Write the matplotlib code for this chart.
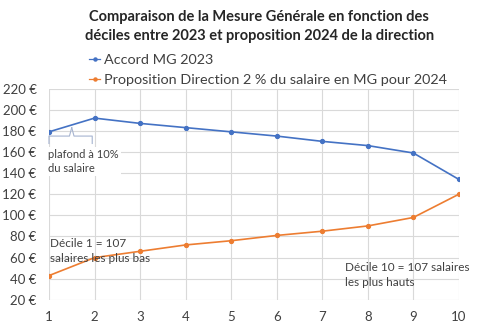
import matplotlib
matplotlib.use("Agg")
import matplotlib.pyplot as plt
from matplotlib.ticker import FuncFormatter

# données
deciles = [1, 2, 3, 4, 5, 6, 7, 8, 9, 10]
accord_2023 = [179, 192, 187, 183, 179, 175, 170, 166, 159, 134]
proposition_2024 = [43, 60, 66, 72, 76, 81, 85, 90, 98, 120]
y_ticks = [20, 40, 60, 80, 100, 120, 140, 160, 180, 200, 220]

plt.rcParams['font.family'] = ['Lato', 'DejaVu Sans']

bleu = '#4472C4'
orange = '#ED7D31'

fig = plt.figure(figsize=(4.8, 3.26), dpi=100)
ax = fig.add_axes([0.102, 0.080, 0.854, 0.6485])

ax.plot(deciles, accord_2023, color=bleu, lw=1.2, marker='o', ms=2.8,
        label='Accord MG 2023')
ax.plot(deciles, proposition_2024, color=orange, lw=1.2, marker='o', ms=2.8,
        label='Proposition Direction 2 % du salaire en MG pour 2024')

ax.set_xlim(1, 10)
ax.set_ylim(20, 220)
ax.set_xticks(deciles)
ax.set_yticks(y_ticks)
ax.yaxis.set_major_formatter(FuncFormatter(lambda v, p: f"{int(v)} €"))
ax.tick_params(length=0, labelsize=9.5, colors='#404040')
ax.tick_params(axis='y', pad=9)
ax.tick_params(axis='x', pad=8)
ax.grid(True, color='#d9d9d9', lw=0.8)
ax.set_axisbelow(True)
for s in ax.spines.values():
    s.set_visible(False)

fig.text(0.54, 0.968, "Comparaison de la Mesure Générale en fonction des\n"
         "déciles entre 2023 et proposition 2024 de la direction",
         ha='center', va='top', fontsize=10.5, fontweight='bold',
         color='#262626', linespacing=1.45)

leg = fig.legend(loc='upper left', bbox_to_anchor=(0.185, 0.835), frameon=False,
                 fontsize=10.4, handlelength=0.8, handletextpad=0.25,
                 labelspacing=0.55, borderaxespad=0, borderpad=0,
                 labelcolor='#404040')
for h in leg.legend_handles:
    h.set_linewidth(0.9)
    h.set_markersize(2.2)

# accolade "plafond"
brace_c = '#a6b4d0'
ax.plot([1, 1, 1.45, 1.5], [168, 175, 175, 183], color=brace_c, lw=0.8, clip_on=False)
ax.plot([1.5, 1.55, 1.95, 1.95], [183, 175, 175, 168], color=brace_c, lw=0.8, clip_on=False)

ax.text(0.98, 163, "plafond à 10%\ndu salaire", fontsize=8, color='#404040',
        va='top', ha='left', linespacing=1.4,
        bbox=dict(facecolor='white', edgecolor='none', pad=1.5))
ax.text(1.02, 79, "Décile 1 = 107\nsalaires les plus bas", fontsize=8.5,
        color='#404040', va='top', ha='left', linespacing=1.5)
ax.text(7.5, 56, "Décile 10 = 107 salaires\nles plus hauts", fontsize=8.5,
        color='#404040', va='top', ha='left', linespacing=1.5)

fig.savefig('out.png', dpi=100)
